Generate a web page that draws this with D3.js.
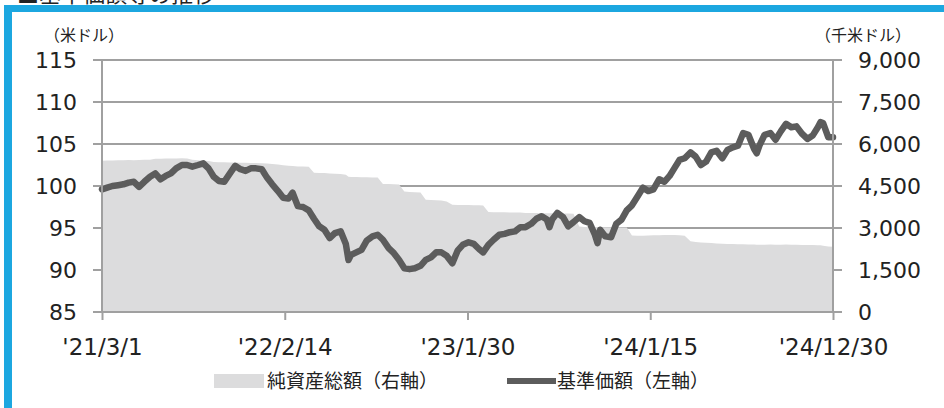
<!DOCTYPE html>
<html>
<head>
<meta charset="utf-8">
<script src="https://cdn.jsdelivr.net/npm/d3@7"></script>
<style>
  body { margin: 0; background: #fff; }
  svg { display: block; }
</style>
</head>
<body>
<svg id="chart"></svg>
<script>
const dates = [
  "2021-03-01", "2021-03-11", "2021-03-21", "2021-04-01", "2021-04-11", "2021-04-21",
  "2021-05-01", "2021-05-11", "2021-05-21", "2021-06-01", "2021-06-11", "2021-06-21",
  "2021-07-01", "2021-07-11", "2021-07-21", "2021-08-01", "2021-08-11", "2021-08-21",
  "2021-09-01", "2021-09-11", "2021-09-21", "2021-10-01", "2021-10-11", "2021-10-21",
  "2021-11-01", "2021-11-11", "2021-11-21", "2021-12-01", "2021-12-11", "2021-12-21",
  "2022-01-01", "2022-01-11", "2022-01-21", "2022-02-01", "2022-02-11", "2022-02-21",
  "2022-03-01", "2022-03-11", "2022-03-21", "2022-04-01", "2022-04-11", "2022-04-21",
  "2022-05-01", "2022-05-11", "2022-05-21", "2022-06-01", "2022-06-11", "2022-06-16",
  "2022-06-21", "2022-07-01", "2022-07-11", "2022-07-21", "2022-08-01", "2022-08-11",
  "2022-08-21", "2022-09-01", "2022-09-11", "2022-09-21", "2022-10-01", "2022-10-11",
  "2022-10-21", "2022-11-01", "2022-11-11", "2022-11-21", "2022-12-01", "2022-12-11",
  "2022-12-21", "2023-01-01", "2023-01-11", "2023-01-21", "2023-02-01", "2023-02-11",
  "2023-02-21", "2023-03-01", "2023-03-11", "2023-03-21", "2023-04-01", "2023-04-11",
  "2023-04-21", "2023-05-01", "2023-05-11", "2023-05-21", "2023-06-01", "2023-06-11",
  "2023-06-21", "2023-07-01", "2023-07-06", "2023-07-11", "2023-07-21", "2023-08-01",
  "2023-08-11", "2023-08-21", "2023-09-01", "2023-09-11", "2023-09-21", "2023-10-01",
  "2023-10-06", "2023-10-11", "2023-10-21", "2023-11-01", "2023-11-11", "2023-11-21",
  "2023-12-01", "2023-12-11", "2023-12-21", "2024-01-01", "2024-01-11", "2024-01-21",
  "2024-02-01", "2024-02-11", "2024-02-21", "2024-03-01", "2024-03-11", "2024-03-21",
  "2024-04-01", "2024-04-11", "2024-04-21", "2024-05-01", "2024-05-11", "2024-05-21",
  "2024-06-01", "2024-06-11", "2024-06-21", "2024-07-01", "2024-07-11", "2024-07-21",
  "2024-08-01", "2024-08-06", "2024-08-11", "2024-08-21", "2024-09-01", "2024-09-11",
  "2024-09-21", "2024-10-01", "2024-10-11", "2024-10-21", "2024-11-01", "2024-11-11",
  "2024-11-21", "2024-12-01", "2024-12-06", "2024-12-11", "2024-12-21", "2024-12-30"
];

// 基準価額（米ドル）
const navValues = [
  99.6, 99.8, 100.0, 100.1, 100.2, 100.4,
  100.5, 99.9, 100.5, 101.1, 101.5, 100.8,
  101.2, 101.5, 102.1, 102.5, 102.5, 102.3,
  102.5, 102.7, 102.1, 101.1, 100.6, 100.5,
  101.5, 102.4, 102.0, 101.8, 102.1, 102.1,
  102.0, 101.0, 100.2, 99.4, 98.6, 98.5,
  99.2, 97.6, 97.5, 97.1, 96.1, 95.2,
  94.8, 93.8, 94.4, 94.6, 93.1, 91.2,
  91.8, 92.1, 92.4, 93.5, 94.0, 94.2,
  93.6, 92.6, 92.0, 91.2, 90.2, 90.1,
  90.2, 90.5, 91.2, 91.5, 92.1, 92.1,
  91.7, 90.8, 92.3, 93.0, 93.3, 93.1,
  92.5, 92.1, 93.0, 93.6, 94.2, 94.3,
  94.5, 94.6, 95.1, 95.1, 95.5, 96.1,
  96.4, 96.0, 95.1, 96.0, 96.8, 96.3,
  95.2, 95.7, 96.3, 95.8, 95.6, 94.2,
  93.2, 94.8, 94.0, 93.9, 95.5, 96.0,
  97.1, 97.7, 98.7, 99.8, 99.4, 99.6,
  100.8, 100.5, 101.2, 102.1, 103.1, 103.3,
  104.0, 103.5, 102.5, 102.9, 104.0, 104.2,
  103.3, 104.3, 104.6, 104.8, 106.3, 106.1,
  104.4, 103.9, 104.8, 106.1, 106.3, 105.5,
  106.5, 107.4, 107.0, 107.1, 106.2, 105.6,
  106.0, 107.0, 107.6, 107.5, 105.8, 105.8
];

// 純資産総額（千米ドル）
const assetValues = [
  5400, 5410, 5410, 5420, 5420, 5430,
  5420, 5430, 5440, 5440, 5470, 5470,
  5480, 5480, 5480, 5490, 5480, 5440,
  5420, 5400, 5390, 5360, 5350, 5350,
  5340, 5340, 5330, 5330, 5320, 5320,
  5310, 5300, 5290, 5270, 5240, 5220,
  5210, 5200, 5200, 5190, 4970, 4960,
  4960, 4950, 4940, 4930, 4900, 4830,
  4820, 4820, 4810, 4810, 4800, 4800,
  4570, 4570, 4560, 4550, 4300, 4290,
  4280, 4270, 4010, 4000, 3990, 3980,
  3950, 3830, 3820, 3820, 3820, 3810,
  3810, 3800, 3570, 3560, 3560, 3560,
  3550, 3550, 3550, 3540, 3540, 3540,
  3530, 3530, 3530, 3530, 3520, 3520,
  3520, 3510, 3050, 3040, 3040, 3040,
  3040, 3030, 3030, 3030, 3030, 3020,
  3020, 2730, 2720, 2720, 2730, 2740,
  2740, 2750, 2750, 2750, 2740, 2720,
  2530, 2500, 2480, 2470, 2460, 2450,
  2440, 2430, 2430, 2420, 2420, 2410,
  2410, 2400, 2400, 2400, 2410, 2400,
  2400, 2410, 2400, 2400, 2390, 2390,
  2390, 2380, 2380, 2370, 2340, 2330
];

const leftTicks = [85, 90, 95, 100, 105, 110, 115];
const rightTicks = [0, 1500, 3000, 4500, 6000, 7500, 9000];
const xTickDates = ["2021-03-01", "2022-02-14", "2023-01-30", "2024-01-15", "2024-12-30"];
const legendLabels = ["純資産総額（右軸）", "基準価額（左軸）"];

const margin = { top: 60, right: 111, bottom: 96, left: 102 },
  width = 944 - margin.left - margin.right,
  height = 408 - margin.top - margin.bottom;

const parse = d3.timeParse("%Y-%m-%d");
const data = dates.map((d, i) => ({
  date: parse(d),
  nav: navValues[i],
  assets: assetValues[i],
}));

const numFont = "'DejaVu Sans', Verdana, sans-serif";
const jpFont = "'Noto Sans CJK JP', sans-serif";
const gridColor = "#a0a0a0";
const textColor = "#222";

const root = d3.select("#chart").attr("width", 944).attr("height", 408);

// タイトル（上端で切れている）
root
  .append("text")
  .attr("x", 17)
  .attr("y", 2)
  .attr("font-family", jpFont)
  .attr("font-size", "22px")
  .attr("fill", textColor)
  .text("■基準価額等の推移");

// 青い枠
root.append("rect").attr("x", 4).attr("y", 5).attr("width", 940).attr("height", 7).attr("fill", "#1ca7e0");
root.append("rect").attr("x", 4).attr("y", 5).attr("width", 8).attr("height", 403).attr("fill", "#1ca7e0");

const svg = root.append("g").attr("transform", `translate(${margin.left},${margin.top})`);

const x = d3
  .scaleTime()
  .domain([parse(xTickDates[0]), parse(xTickDates[xTickDates.length - 1])])
  .range([0, width]);

const yL = d3.scaleLinear().domain([85, 115]).range([height, 0]);
const yR = d3.scaleLinear().domain([0, 9000]).range([height, 0]);

// グリッド線
svg
  .append("g")
  .selectAll("line")
  .data(leftTicks)
  .join("line")
  .attr("x1", -9)
  .attr("x2", width + 9)
  .attr("y1", (d) => yL(d))
  .attr("y2", (d) => yL(d))
  .attr("stroke", gridColor)
  .attr("stroke-width", 2);

// 純資産総額
svg
  .append("path")
  .datum(data)
  .attr("fill", "#dcdcdd")
  .attr(
    "d",
    d3
      .area()
      .x((d) => x(d.date))
      .y0(height)
      .y1((d) => yR(d.assets))
  );

// 基準価額
svg
  .append("path")
  .datum(data)
  .attr("fill", "none")
  .attr("stroke", "#5c5c5c")
  .attr("stroke-width", 6.5)
  .attr("stroke-linejoin", "round")
  .attr("stroke-linecap", "round")
  .attr(
    "d",
    d3
      .line()
      .x((d) => x(d.date))
      .y((d) => yL(d.nav))
  );

// 軸
const left = svg
  .append("g")
  .call(d3.axisLeft(yL).tickValues(leftTicks).tickSize(0).tickPadding(25));
left.select(".domain").remove();
left
  .selectAll("text")
  .attr("font-family", numFont)
  .attr("font-size", "22px")
  .attr("fill", textColor);

const right = svg
  .append("g")
  .attr("transform", `translate(${width},0)`)
  .call(
    d3
      .axisRight(yR)
      .tickValues(rightTicks)
      .tickSize(0)
      .tickPadding(25)
      .tickFormat(d3.format(","))
  );
right.select(".domain").remove();
right
  .selectAll("text")
  .attr("font-family", numFont)
  .attr("font-size", "22px")
  .attr("fill", textColor);

const bottom = svg
  .append("g")
  .attr("transform", `translate(0,${height})`)
  .call(
    d3
      .axisBottom(x)
      .tickValues(xTickDates.map(parse))
      .tickSize(8)
      .tickPadding(19)
      .tickFormat(d3.timeFormat("'%y/%-m/%-d"))
  );
bottom.select(".domain").remove();
bottom.selectAll("line").attr("stroke", gridColor).attr("stroke-width", 2);
bottom
  .selectAll("text")
  .attr("font-family", numFont)
  .attr("font-size", "23px")
  .attr("fill", textColor);

svg
  .append("line")
  .attr("x1", 0)
  .attr("x2", 0)
  .attr("y1", 0)
  .attr("y2", height)
  .attr("stroke", gridColor)
  .attr("stroke-width", 2);
svg
  .append("line")
  .attr("x1", width)
  .attr("x2", width)
  .attr("y1", 0)
  .attr("y2", height)
  .attr("stroke", gridColor)
  .attr("stroke-width", 2);
svg
  .append("line")
  .attr("x1", -9)
  .attr("x2", width + 9)
  .attr("y1", height)
  .attr("y2", height)
  .attr("stroke", gridColor)
  .attr("stroke-width", 2);

// 単位
root
  .append("text")
  .attr("x", 44)
  .attr("y", 41)
  .attr("font-family", jpFont)
  .attr("font-size", "16px")
  .attr("fill", textColor)
  .text("（米ドル）");
root
  .append("text")
  .attr("x", 815)
  .attr("y", 41)
  .attr("font-family", jpFont)
  .attr("font-size", "16px")
  .attr("fill", textColor)
  .text("（千米ドル）");

// 凡例
const legend = root.append("g").attr("transform", "translate(214,381)");
legend
  .append("rect")
  .attr("x", 0)
  .attr("y", -7)
  .attr("width", 50)
  .attr("height", 14)
  .attr("fill", "#dcdcdd");
legend
  .append("text")
  .attr("x", 53)
  .attr("y", 7)
  .attr("font-family", jpFont)
  .attr("font-size", "19px")
  .attr("fill", textColor)
  .text(legendLabels[0]);
legend
  .append("line")
  .attr("x1", 293)
  .attr("x2", 342)
  .attr("y1", 0)
  .attr("y2", 0)
  .attr("stroke", "#5c5c5c")
  .attr("stroke-width", 6);
legend
  .append("text")
  .attr("x", 343)
  .attr("y", 7)
  .attr("font-family", jpFont)
  .attr("font-size", "19px")
  .attr("fill", textColor)
  .text(legendLabels[1]);
</script>
</body>
</html>
